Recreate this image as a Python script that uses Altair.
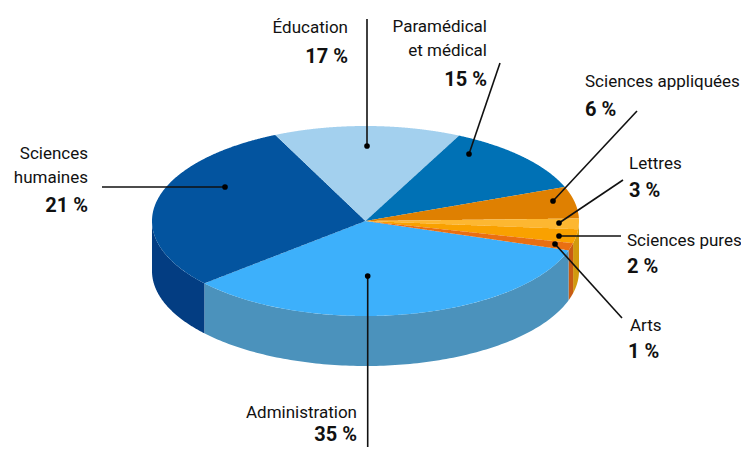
import numpy as np
import pandas as pd
import altair as alt

# Slices as printed on the chart
labels = ["Administration", "Sciences humaines", "Éducation", "Paramédical et médical",
          "Sciences appliquées", "Lettres", "Sciences pures", "Arts"]
shares = [35, 21, 17, 15, 6, 3, 2, 1]
top_colors = ["#3DB0FB", "#03549F", "#A3D0EE", "#0071B5", "#DF8001", "#FDB731", "#F9A100", "#EA6F12"]

# Slice boundaries (degrees on the drawn ellipse, clockwise on screen)
slice_starts = [18, 139, 245, 296, 339, 358.5, 5, 13.5]
slice_ends = [139, 245, 296, 339, 358.5, 365, 13.5, 18]

# Visible outer wall pieces
wall_names = ["w_gold", "w_arts", "w_admin", "w_hum"]
wall_starts = [0, 13.5, 18, 139]
wall_ends = [13.5, 18, 139, 180]
wall_colors = ["#D19A0E", "#C85C14", "#4B92BC", "#033D82"]

# Pie geometry on the picture's pixel scale
cx, cy, rx, ry, depth = 365.5, 221.0, 213.5, 95.0, 50.0

# Leader lines: outer end, then the dot inside the slice
line_x1 = [367.7, 102, 367, 500, 637, 623, 621, 622]
line_y1 = [447, 187, 19, 63, 111, 180, 236, 318]
line_x2 = [367.7, 225, 367, 469, 553, 559, 559, 555]
line_y2 = [276, 187, 146, 154, 201, 223, 236, 244]

# Text labels
text_values = ["Administration", "35 %", "Sciences", "humaines", "21 %", "Éducation", "17 %",
               "Paramédical", "et médical", "15 %", "Sciences appliquées", "6 %",
               "Lettres", "3 %", "Sciences pures", "2 %", "Arts", "1 %"]
text_x = [357, 357, 88, 88, 88, 348, 348, 487, 487, 487, 585, 585, 629, 629, 627, 627, 630, 628]
text_y = [418, 441, 159, 183, 212, 33, 63, 32, 56, 86, 87, 116, 169, 197, 246, 273, 331, 358]
text_align = ["right"] * 10 + ["left"] * 8
text_bold = [False, True, False, False, True, False, True, False, False, True,
             False, True, False, True, False, True, False, True]


def ellipse(deg):
    t = np.radians(deg)
    return cx + rx * np.cos(t), cy + ry * np.sin(t)


def sector(name, a, b):
    """Area rows (x, top, bottom) for one top-face sector."""
    xs, ys = ellipse(np.linspace(a, b, 160))
    px = np.r_[cx, xs, cx]
    py = np.r_[cy, ys, cy]
    rows = []
    for x in np.unique(np.r_[px, np.linspace(px.min(), px.max(), 300)]):
        hits = []
        for i in range(len(px) - 1):
            x0, x1, y0, y1 = px[i], px[i + 1], py[i], py[i + 1]
            if min(x0, x1) <= x <= max(x0, x1):
                if x0 == x1:
                    hits += [y0, y1]
                else:
                    hits.append(y0 + (y1 - y0) * (x - x0) / (x1 - x0))
        if hits:
            rows.append((name, x, min(hits), max(hits)))
    return rows


rows = []
for n, a, b in zip(wall_names, wall_starts, wall_ends):
    xs, ys = ellipse(np.linspace(a, b, 120))
    rows += [(n, x, y, y + depth) for x, y in zip(xs, ys)]
for n, a, b in zip(labels, slice_starts, slice_ends):
    rows += sector(n, a, b)
df = pd.DataFrame(rows, columns=["piece", "x", "y", "y2"])
df["k"] = df["piece"].map({n: i for i, n in enumerate(wall_names + labels)})
df = df.sort_values(["k", "x"])

xs = alt.Scale(domain=[8, 741], nice=False, zero=False)
ys = alt.Scale(domain=[447, 8], nice=False, zero=False)
domain = wall_names + labels
colors = wall_colors + top_colors
color_scale = alt.Scale(domain=domain, range=colors)

pie = alt.Chart(df).mark_area(opacity=1, interpolate="linear").encode(
    x=alt.X("x:Q", scale=xs, axis=None),
    y=alt.Y("y:Q", scale=ys, axis=None),
    y2="y2:Q",
    color=alt.Color("piece:N", scale=color_scale, legend=None),
)

lines_df = pd.DataFrame({"x1": line_x1, "y1": line_y1, "x2": line_x2, "y2": line_y2})
lines = alt.Chart(lines_df).mark_rule(color="#111111", strokeWidth=1.6).encode(
    x=alt.X("x1:Q", scale=xs, axis=None),
    y=alt.Y("y1:Q", scale=ys, axis=None),
    x2="x2:Q",
    y2="y2:Q",
)
dots = alt.Chart(lines_df).mark_circle(color="#000000", opacity=1, size=32).encode(
    x=alt.X("x2:Q", scale=xs, axis=None),
    y=alt.Y("y2:Q", scale=ys, axis=None),
)

text_df = pd.DataFrame({"t": text_values, "x": text_x, "y": text_y, "a": text_align, "b": text_bold})
layers = [pie, lines, dots]
for al in ["left", "right"]:
    for bold in [False, True]:
        sub = text_df[(text_df.a == al) & (text_df.b == bold)]
        layers.append(
            alt.Chart(sub).mark_text(
                align=al, baseline="alphabetic", font="Roboto",
                fontSize=20 if bold else 17, fontWeight="bold" if bold else "normal", color="#111111",
            ).encode(
                x=alt.X("x:Q", scale=xs, axis=None),
                y=alt.Y("y:Q", scale=ys, axis=None),
                text="t:N",
            )
        )

chart = alt.layer(*layers).properties(
    width=733, height=439, padding=0, background="white",
    autosize=alt.AutoSizeParams(type="none"),
).configure_view(stroke=None)

chart.save("out.html", embed_options={"renderer": "svg", "actions": False})
